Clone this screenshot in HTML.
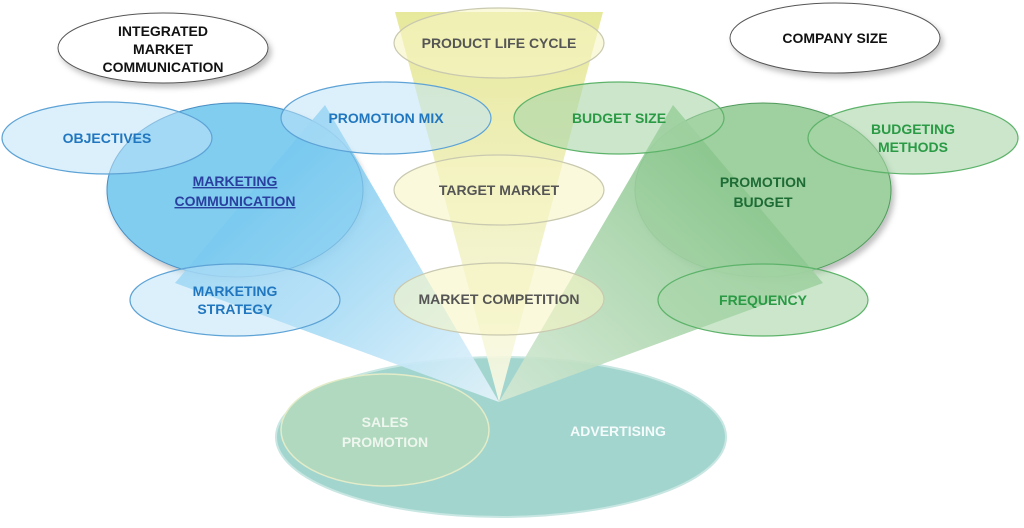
<!DOCTYPE html>
<html><head><meta charset="utf-8"><style>
html,body{margin:0;padding:0;background:#fff;width:1024px;height:528px;overflow:hidden}
text{font-family:"Liberation Sans",Arial,sans-serif;font-weight:bold;font-size:14px;text-anchor:middle}
</style></head><body>
<svg width="1024" height="528" viewBox="0 0 1024 528" xmlns="http://www.w3.org/2000/svg">
<defs>
<linearGradient id="gb" x1="0" y1="0" x2="1" y2="1"><stop offset="0" stop-color="#4fb8ec"/><stop offset="1" stop-color="#e6f4fb"/></linearGradient>
<linearGradient id="gy" x1="0" y1="0" x2="0" y2="1"><stop offset="0" stop-color="#e4e690"/><stop offset="1" stop-color="#fafae8"/></linearGradient>
<linearGradient id="gg" x1="1" y1="0" x2="0" y2="1"><stop offset="0" stop-color="#72bb76"/><stop offset="1" stop-color="#d5e9d5"/></linearGradient>
<filter id="sh" x="-20%" y="-20%" width="150%" height="160%"><feDropShadow dx="3" dy="4" stdDeviation="3" flood-color="#000" flood-opacity="0.25"/></filter>
</defs>
<ellipse cx="501" cy="437" rx="225" ry="80" fill="#a3d5cf" stroke="#c8e6e2" stroke-width="2"/>
<ellipse cx="385" cy="430" rx="104" ry="56" fill="#b1d9bf" stroke="#e3ecc8" stroke-width="1.5"/>
<text x="385" y="427" fill="#eef6ee" font-size="15">SALES</text>
<text x="385" y="447" fill="#eef6ee" font-size="15">PROMOTION</text>
<text x="618" y="436" fill="#f4fbfa" font-size="15">ADVERTISING</text>

<ellipse cx="235" cy="190" rx="128" ry="87" fill="#80cdf0" stroke="#4a8fc4" stroke-width="1" filter="url(#sh)"/>
<ellipse cx="763" cy="190" rx="128" ry="87" fill="#9fd09f" stroke="#4f9a5c" stroke-width="1" filter="url(#sh)"/>
<polygon points="499,402 325,105 175,283" fill="url(#gb)" opacity="0.9"/>
<polygon points="499,402 395,12 603,12" fill="url(#gy)" opacity="0.9"/>
<polygon points="499,402 673,105 823,283" fill="url(#gg)" opacity="0.9"/>
<ellipse cx="235" cy="190" rx="128" ry="87" fill="#80cdf0" stroke="#4a8fc4" stroke-width="1" opacity="0.3"/>

<g filter="url(#sh)">
<ellipse cx="163" cy="48" rx="105" ry="35" fill="#fff" stroke="#555" stroke-width="1"/>
<ellipse cx="835" cy="38" rx="105" ry="35" fill="#fff" stroke="#555" stroke-width="1"/>
</g>
<text x="163" y="36" fill="#111">INTEGRATED</text>
<text x="163" y="54" fill="#111">MARKET</text>
<text x="163" y="72" fill="#111">COMMUNICATION</text>
<text x="835" y="43" fill="#111">COMPANY SIZE</text>

<g fill="#bfe3f7" fill-opacity="0.55" stroke="#5ea3d6" stroke-width="1.2">
<ellipse cx="107" cy="138" rx="105" ry="36"/>
<ellipse cx="386" cy="118" rx="105" ry="36"/>
<ellipse cx="235" cy="300" rx="105" ry="36"/>
</g>
<g fill="#f7f5c4" fill-opacity="0.6" stroke="#c9c9b0" stroke-width="1.2">
<ellipse cx="499" cy="43" rx="105" ry="35"/>
<ellipse cx="499" cy="190" rx="105" ry="35"/>
<ellipse cx="499" cy="299" rx="105" ry="36"/>
</g>
<g fill="#a8d6a8" fill-opacity="0.6" stroke="#5db36a" stroke-width="1.2">
<ellipse cx="619" cy="118" rx="105" ry="36"/>
<ellipse cx="913" cy="138" rx="105" ry="36"/>
<ellipse cx="763" cy="300" rx="105" ry="36"/>
</g>

<text x="107" y="143" fill="#2177bf">OBJECTIVES</text>
<text x="386" y="123" fill="#2177bf">PROMOTION MIX</text>
<text x="235" y="296" fill="#2177bf">MARKETING</text>
<text x="235" y="314" fill="#2177bf">STRATEGY</text>
<text x="235" y="186" fill="#2a3f9e" text-decoration="underline">MARKETING</text>
<text x="235" y="206" fill="#2a3f9e" text-decoration="underline">COMMUNICATION</text>

<text x="499" y="48" fill="#555">PRODUCT LIFE CYCLE</text>
<text x="499" y="195" fill="#555">TARGET MARKET</text>
<text x="499" y="304" fill="#555">MARKET COMPETITION</text>

<text x="619" y="123" fill="#2a9a45">BUDGET SIZE</text>
<text x="913" y="134" fill="#2a9a45">BUDGETING</text>
<text x="913" y="152" fill="#2a9a45">METHODS</text>
<text x="763" y="305" fill="#2a9a45">FREQUENCY</text>
<text x="763" y="187" fill="#1d6b35" font-size="15">PROMOTION</text>
<text x="763" y="207" fill="#1d6b35" font-size="15">BUDGET</text>
</svg>
</body></html>
